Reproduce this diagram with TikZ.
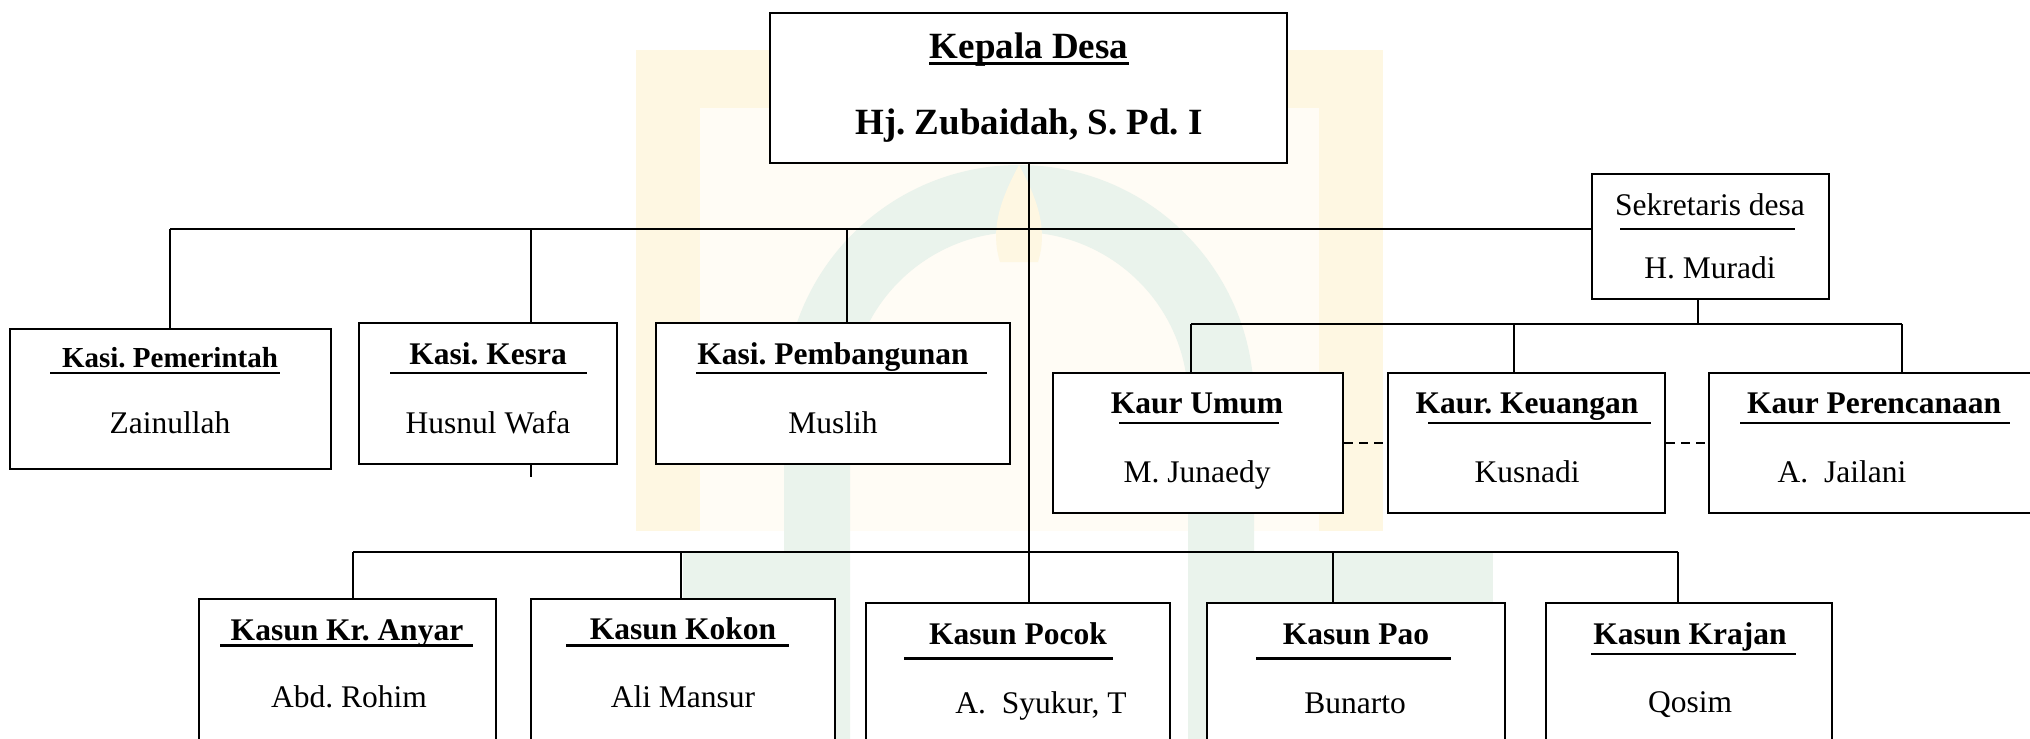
\documentclass[tikz,border=0pt]{standalone}
\usepackage{fontspec}
\setmainfont{Liberation Serif}
\frenchspacing
\definecolor{wmyel}{HTML}{FEF7E2}
\definecolor{wmyelin}{HTML}{FFFCF5}
\definecolor{wmgrn}{HTML}{EAF3EC}
\newcommand\orgbox[5]{\node[box, minimum width={(#4-#2)*1pt}, minimum height={(#5-#3)*1pt}] (#1) at ({(#2+#4)/2},{(#3+#5)/2}) {};}
\begin{document}
\begin{tikzpicture}[x=1pt,y=-1pt,
  box/.style={draw, line width=2.3pt, inner sep=0pt, fill=white},
  conn/.style={line width=2pt},
  uline/.style={line width=2.4pt},
  ttl/.style={font=\fontsize{31.5}{36}\selectfont\bfseries, anchor=base, inner sep=0pt},
  nm/.style={font=\fontsize{31.5}{36}\selectfont, anchor=base, inner sep=0pt},
  dashconn/.style={line width=2pt, dash pattern=on 9pt off 6pt}]
\clip (0,0) rectangle (2030,739);
\fill[white] (0,0) rectangle (2030,739);
% watermark
\fill[wmyel] (636,50) rectangle (1383,531);
\fill[wmyelin] (700,108) rectangle (1319,531);
\fill[wmgrn, even odd rule]
  (784,739) -- (784,400) .. controls (784,270) and (889,165) .. (1019,165)
  .. controls (1149,165) and (1254,270) .. (1254,400) -- (1254,739) -- cycle
  (850,739) -- (850,400) .. controls (850,307) and (926,232) .. (1019,232)
  .. controls (1112,232) and (1188,307) .. (1188,400) -- (1188,739) -- cycle;
\fill[wmyel] (1019,165) .. controls (1000,200) and (990,230) .. (1000,262) -- (1038,262) .. controls (1048,230) and (1038,200) .. (1019,165);
\fill[wmgrn] (683,553) rectangle (784,739);
\fill[wmgrn] (1254,553) rectangle (1493,739);
% boxes
\orgbox{kep}{770}{13}{1287}{163}
\orgbox{sek}{1592}{174}{1829}{299}
\orgbox{kasi1}{10}{329}{331}{469}
\orgbox{kasi2}{359}{323}{617}{464}
\orgbox{kasi3}{656}{323}{1010}{464}
\orgbox{kaur1}{1053}{373}{1343}{513}
\orgbox{kaur2}{1388}{373}{1665}{513}
\orgbox{kaur3}{1709}{373}{2045}{513}
\orgbox{kasun1}{199}{599}{496}{760}
\orgbox{kasun2}{531}{599}{835}{760}
\orgbox{kasun3}{866}{603}{1170}{760}
\orgbox{kasun4}{1207}{603}{1505}{760}
\orgbox{kasun5}{1546}{603}{1832}{760}
% connectors
\coordinate (c0) at (1029,229);
\coordinate (h1) at (170,229);
\coordinate (h2) at (531,229);
\coordinate (h3) at (847,229);
\coordinate (s1) at (1698,324);
\coordinate (u1) at (1191,324);
\coordinate (u2) at (1514,324);
\coordinate (u3) at (1902,324);
\coordinate (b1) at (353,552);
\coordinate (b2) at (681,552);
\coordinate (b4) at (1333,552);
\coordinate (b5) at (1678,552);
\draw[conn] (kep.south -| c0) -- (kasun3.north -| c0);
\draw[conn] (h1) -- (h1 -| sek.west);
\draw[conn] (h1) -- (kasi1.north -| h1);
\draw[conn] (h2) -- (kasi2.north -| h2);
\draw[conn] (kasi2.south -| h2) -- ++(0,12);
\draw[conn] (h3) -- (kasi3.north -| h3);
\draw[conn] (sek.south -| s1) -- (s1);
\draw[conn] (u1) -- (u3);
\draw[conn] (u1) -- (kaur1.north -| u1);
\draw[conn] (u2) -- (kaur2.north -| u2);
\draw[conn] (u3) -- (kaur3.north -| u3);
\draw[dashconn] (kaur1.east) -- (kaur2.west);
\draw[dashconn] (kaur2.east) -- (kaur3.west);
\draw[conn] (b1) -- (b5);
\draw[conn] (b1) -- (kasun1.north -| b1);
\draw[conn] (b2) -- (kasun2.north -| b2);
\draw[conn] (b4) -- (kasun4.north -| b4);
\draw[conn] (b5) -- (kasun5.north -| b5);
% texts
\node[ttl, font=\fontsize{37}{42}\selectfont\bfseries] (kepT) at (1029,58) {Kepala Desa};
\draw[line width=3pt] (929,63.5) -- (1129,63.5);
\node[ttl, font=\fontsize{37}{42}\selectfont\bfseries] (kepN) at (1029,134) {Hj. Zubaidah, S. Pd. I};
\node[nm] (sekT) at (1710,215) {Sekretaris desa};
\draw[uline] (1620,229) -- (1795,229);
\node[nm] (sekN) at (1710,278) {H. Muradi};
\node[ttl, font=\fontsize{29}{34}\selectfont\bfseries] (k1T) at (170,367) {Kasi. Pemerintah};
\draw[uline] (50,373) -- (280,373);
\node[nm] (k1N) at (170,433) {Zainullah};
\node[ttl] (k2T) at (488,364) {Kasi. Kesra};
\draw[uline] (390,373) -- (587,373);
\node[nm] (k2N) at (488,433) {Husnul Wafa};
\node[ttl] (k3T) at (833,364) {Kasi. Pembangunan};
\draw[uline] (696,373) -- (987,373);
\node[nm] (k3N) at (833,433) {Muslih};
\node[ttl] (u1T) at (1197,413) {Kaur Umum};
\draw[uline] (1119,423) -- (1279,423);
\node[nm] (u1N) at (1197,482) {M. Junaedy};
\node[ttl] (u2T) at (1527,413) {Kaur. Keuangan};
\draw[uline] (1428,423) -- (1651,423);
\node[nm] (u2N) at (1527,482) {Kusnadi};
\node[ttl] (u3T) at (1874,413) {Kaur Perencanaan};
\draw[uline] (1740,423) -- (2010,423);
\node[nm] (u3N) at (1842,482) {A.\ \ Jailani};
\node[ttl] (d1T) at (347,640) {Kasun Kr. Anyar};
\draw[uline] (220,645.5) -- (473,645.5);
\node[nm] (d1N) at (349,707) {Abd. Rohim};
\node[ttl] (d2T) at (683,639) {Kasun Kokon};
\draw[uline] (566,645.5) -- (789,645.5);
\node[nm] (d2N) at (683,707) {Ali Mansur};
\node[ttl] (d3T) at (1018,644) {Kasun Pocok};
\draw[uline] (904,658.5) -- (1113,658.5);
\node[nm] (d3N) at (1041,713) {A.\ \ Syukur, T};
\node[ttl] (d4T) at (1356,644) {Kasun Pao};
\draw[uline] (1256,658.5) -- (1451,658.5);
\node[nm] (d4N) at (1355,713) {Bunarto};
\node[ttl] (d5T) at (1690,644) {Kasun Krajan};
\draw[uline] (1591,654) -- (1796,654);
\node[nm] (d5N) at (1690,712) {Qosim};
\end{tikzpicture}
\end{document}
